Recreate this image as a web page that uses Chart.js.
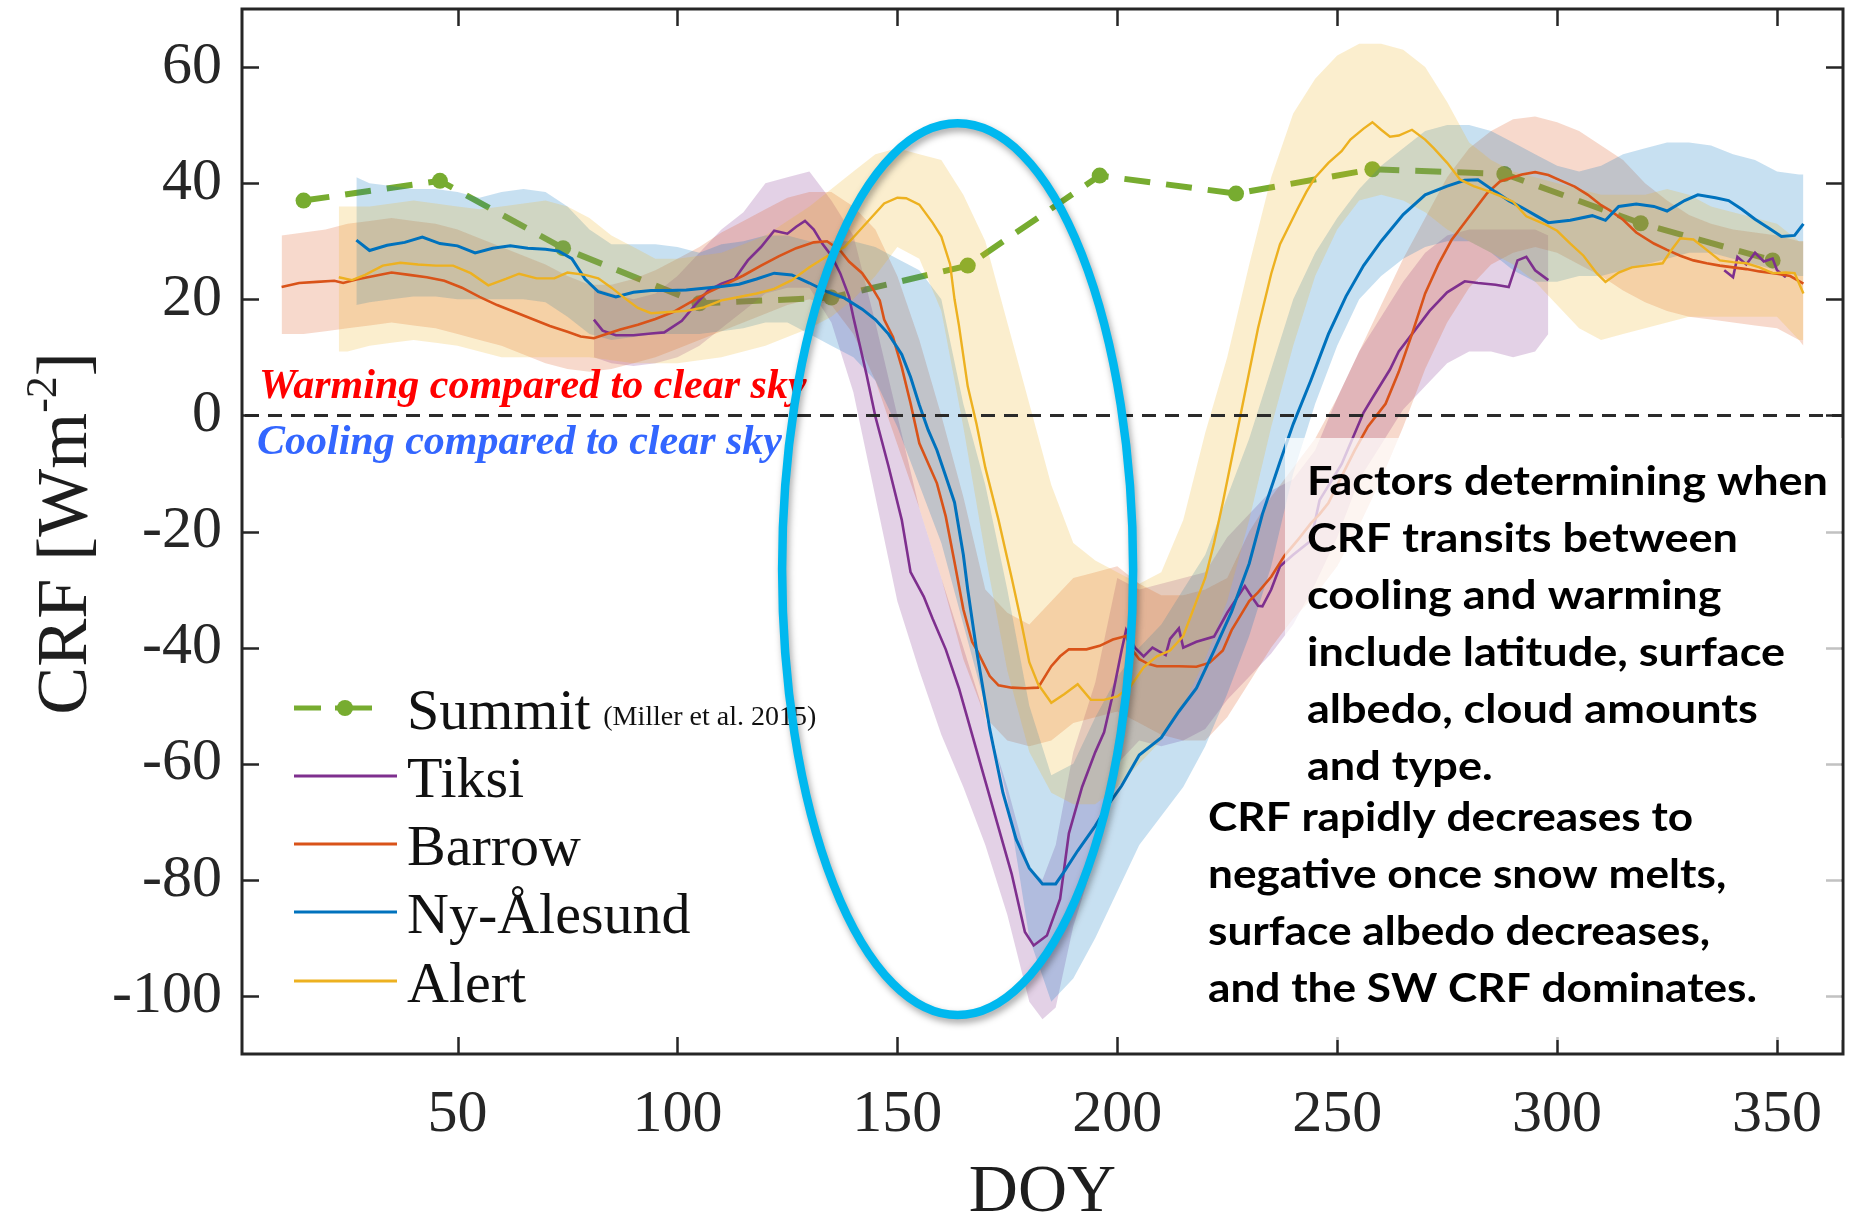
<!DOCTYPE html>
<html>
<head>
<meta charset="utf-8">
<title>Cloud radiative forcing by day of year</title>
<script src="https://cdn.jsdelivr.net/npm/chart.js@4.4.1/dist/chart.umd.min.js"></script>
<style>
  html, body { margin: 0; padding: 0; background: #ffffff; }
  #box { position: relative; width: 1851px; height: 1217px; }
  canvas { display: block; }
</style>
</head>
<body>
<div id="box"><canvas id="crf" width="1851" height="1217"></canvas></div>
<script>
// ---- axis ticks ----
const tickDoy = [50, 100, 150, 200, 250, 300, 350];
const tickCrf = [-100, -80, -60, -40, -20, 0, 20, 40, 60];

// ---- Summit monthly means (Miller et al. 2015) ----
const summitDoy = [15, 46, 74, 105, 135, 166, 196, 227, 258, 288, 319, 349];
const summitCrf = [37.0, 40.4, 28.8, 19.3, 20.3, 25.8, 41.3, 38.2, 42.4, 41.6, 33.1, 26.7];

// ---- Tiksi ----
const tiksiDoy = [81, 83, 86, 90, 94, 97, 101, 104, 107, 110, 113, 116, 119, 122, 125, 127, 129, 131, 133, 135,
  137, 139, 140, 143, 145, 148, 151, 153, 156, 158, 161, 164, 167, 170, 173, 176, 179, 181, 184, 187,
  189, 192, 195, 197, 199, 201, 202, 204, 206, 208, 211, 212, 214, 215, 218, 222, 225, 229, 230, 232,
  233, 235, 237, 240, 244, 246, 251, 256, 258, 262, 264, 267, 271, 275, 279, 282, 286, 289, 291, 293,
  295, 298, 318, 338, 340, 341, 343, 345, 347, 349, 350, 352];
const tiksiCrf = [16.5, 14.6, 13.8, 13.8, 14.1, 14.3, 16.3, 19, 21.5, 22.7, 23.5, 26.7, 29, 31.8, 31.3, 32.5, 33.5, 32, 29.5, 27.5,
  24.5, 20.5, 16.9, 7, -0.2, -8.8, -18, -27, -31.2, -35, -40.3, -47, -55, -63, -71, -79, -89, -91.3, -89.6, -83.3,
  -72, -64, -58, -54.6, -48, -40.4, -37, -40, -41.5, -40, -41.3, -38.5, -36.7, -40, -39, -38.1, -34, -29.4, -30.6, -32.8,
  -32.9, -30, -26, -24, -21.6, -14.6, -8.4, 0.5, 3, 7.9, 11, 14, 18, 21.2, 23.1, 22.8, 22.5, 22.1, 26.7, 27.3,
  25, 23.3, null, 25, 23.8, 27.3, 26, 28, 26.5, 27, 25, 23.8];
const tiksiBandDoy = [81, 85, 90, 95, 100, 105, 110, 115, 120, 125, 130, 135, 140, 145, 150, 155, 160, 165, 170, 175,
  180, 183, 186, 190, 195, 200, 205, 210, 215, 220, 225, 230, 235, 240, 245, 250, 255, 260, 265, 270,
  275, 280, 285, 290, 295, 298];
const tiksiLow = [10, 9, 8.5, 9, 10, 12, 15, 18, 21, 22, 22, 16, 4, -14, -32, -44, -55, -64, -74, -86,
  -101, -104, -102, -88, -76, -60, -56, -57, -56, -54, -49, -45, -41, -36, -29, -21, -11, -5, 1, 5,
  9, 11, 11, 10, 11, 14];
const tiksiHigh = [22, 21, 20, 21, 24, 28, 32, 35, 40, 41, 42, 37, 31, 16, 0, -16, -28, -40, -52, -64,
  -78, -80, -74, -58, -46, -28, -30, -29, -28, -27, -21, -17, -13, -11, -6, 3, 11, 17, 23, 28,
  31, 32, 32, 32, 32, 31];

// ---- Barrow ----
const barrowDoy = [10, 14, 18, 22, 24, 27, 31, 35, 39, 43, 47, 51, 55, 59, 63, 67, 71, 75, 78, 81,
  83, 87, 91, 95, 99, 103, 107, 111, 115, 119, 123, 127, 131, 134, 137, 139, 142, 144, 146, 147,
  149, 151, 153, 155, 159, 161, 163, 165, 167, 168, 171, 173, 176, 179, 182, 185, 187, 189, 193, 196,
  199, 202, 203, 205, 207, 209, 214, 218, 221, 224, 226, 228, 230, 232, 235, 238, 241, 244, 246, 248,
  251, 254, 257, 261, 264, 267, 270, 273, 276, 280, 284, 287, 290, 292, 295, 298, 301, 304, 307, 310,
  312, 315, 318, 322, 325, 328, 331, 334, 337, 340, 343, 346, 350, 353, 356];
const barrowCrf = [22.1, 22.8, 23.0, 23.2, 22.8, 23.4, 24.0, 24.6, 24.2, 23.8, 23.2, 22.0, 20.4, 19.0, 17.8, 16.6, 15.4, 14.4, 13.6, 13.3,
  13.8, 14.8, 15.6, 16.6, 17.8, 19.5, 21.2, 22.6, 24.1, 25.8, 27.4, 28.8, 29.8, 30, 28.4, 26.5, 24.5, 22.3, 19.8, 16.5,
  13.5, 8.3, 2.1, -4.8, -11.7, -17.4, -25.3, -33.4, -39, -40.3, -44.9, -46.5, -46.9, -47, -46.9, -43.2, -41.5, -40.3, -40.3, -39.7,
  -38.6, -38, -40, -42, -42.8, -43.2, -43.2, -43.3, -42.6, -40.5, -37, -34.5, -32, -30.5, -27.8, -24.2, -21.5, -18.6, -17, -15.1,
  -10.5, -6, -1.9, 2, 7.5, 14, 21, 26, 30.2, 34.2, 38.2, 40.3, 41, 41.5, 41.9, 41.4, 40.4, 39.4, 38, 36.2,
  35.3, 33.7, 31.5, 29.6, 28.5, 27.5, 26.7, 26.2, 25.8, 25.5, 25.2, 24.8, 24.4, 24, 22.7];
const barrowBandDoy = [10, 15, 20, 25, 30, 35, 40, 45, 50, 55, 60, 65, 70, 75, 80, 85, 90, 95, 100, 105,
  110, 115, 120, 125, 130, 135, 140, 145, 150, 155, 160, 165, 170, 175, 180, 185, 190, 195, 200, 205,
  210, 215, 220, 225, 230, 235, 240, 245, 250, 255, 260, 265, 270, 275, 280, 285, 290, 295, 300, 305,
  310, 315, 320, 325, 330, 335, 340, 345, 350, 355, 356];
const barrowLow = [14, 14, 14.5, 15, 15.5, 16, 15.5, 15, 14, 13, 12, 10.5, 9, 8, 7.5, 8, 9, 10, 11.5, 13,
  14.5, 16, 17.5, 19, 20, 19, 14, 6, -5, -16, -28, -42, -52, -56, -57, -56, -53, -52, -51, -53,
  -55, -56, -56, -52, -46, -40, -35, -31, -26, -19, -11, -2, 8, 16, 22, 26, 28, 29, 28, 26,
  24, 21.5, 19.5, 18, 17, 16.5, 16, 15.5, 15, 13, 12];
const barrowHigh = [31, 31.5, 32, 33, 33.5, 34, 33.5, 33, 32, 30.5, 29, 27.5, 26, 24, 22.5, 22.5, 23.5, 25, 27, 29,
  31.5, 33.5, 35.5, 37.5, 38.5, 38.5, 36, 32, 24, 13, 0, -14, -30, -34, -36, -32, -28, -27, -26, -29,
  -31, -31, -30, -28, -20, -14, -9, -4, 3, 11, 19, 27, 34, 41, 46, 49, 51, 51.5, 50.5, 49,
  46.5, 44, 40, 37, 34.5, 33, 32, 31.5, 31, 30, 30];

// ---- Ny-Ålesund ----
const nyDoy = [27, 30, 34, 38, 42, 46, 50, 54, 58, 62, 66, 70, 73, 76, 79, 82, 86, 90, 94, 98,
  102, 106, 110, 114, 118, 122, 126, 130, 134, 138, 142, 145, 148, 151, 153, 155, 157, 159, 161, 163,
  165, 166, 168, 171, 174, 177, 180, 183, 186, 188, 191, 195, 198, 201, 205, 210, 214, 218, 222, 226,
  230, 233, 237, 240, 244, 248, 252, 256, 260, 265, 270, 275, 279, 282, 286, 289, 292, 295, 298, 303,
  308, 311, 314, 318, 322, 325, 329, 332, 336, 339, 342, 345, 348, 351, 354, 356];
const nyCrf = [30.2, 28.4, 29.3, 29.8, 30.7, 29.6, 29.2, 28.0, 28.8, 29.2, 28.8, 28.6, 28.3, 27, 23.5, 21.3, 20.4, 21.2, 21.5, 21.5,
  21.6, 21.9, 22.2, 22.6, 23.5, 24.5, 24.2, 22.8, 21.3, 20.2, 18.3, 16.5, 14, 10.5, 6.6, 1.8, -2.5, -6, -10.5, -15,
  -24, -30, -40.4, -54, -65, -73, -78, -80.7, -80.7, -78.5, -75, -70.7, -67, -63.8, -58.5, -55.5, -51, -47, -40.5, -33.8,
  -25.5, -17, -8, -1.5, 6, 14, 20.5, 25.8, 30, 34.6, 38, 39.5, 40.5, 40.6, 38.5, 37, 35.8, 34.5, 33.2, 33.6,
  34.4, 33.6, 36, 36.4, 36, 35.2, 37, 38, 37.5, 37, 35.5, 33.8, 32.3, 30.8, 31, 33];
const nyBandDoy = [27, 30, 35, 40, 45, 50, 55, 60, 65, 70, 75, 80, 85, 90, 95, 100, 105, 110, 115, 120,
  125, 130, 135, 140, 145, 150, 155, 160, 165, 170, 175, 180, 185, 190, 195, 200, 205, 210, 215, 220,
  225, 230, 235, 240, 245, 250, 255, 260, 265, 270, 275, 280, 285, 290, 295, 300, 305, 310, 315, 320,
  325, 330, 335, 340, 345, 350, 355, 356];
const nyLow = [19, 19.5, 20, 20.5, 20.5, 20, 20, 20, 20, 19.5, 17, 14, 13, 13.5, 14, 14, 14, 14.5, 15, 16,
  16, 14, 12, 10, 6, -2, -12, -22, -36, -50, -66, -90, -101, -97, -90, -82, -74, -69, -64, -57,
  -48, -38, -26, -10, 2, 12, 20, 24, 27, 29, 30, 30, 28, 25, 23, 23, 24, 24, 25, 26,
  27, 28, 28, 27, 26, 25, 24, 24];
const nyHigh = [41, 40, 39.5, 39, 39, 38.5, 37.5, 38.5, 39, 38.5, 36, 32, 29.5, 29.5, 29.5, 29, 28, 29.5, 30, 31,
  31, 30, 30, 30, 29, 27, 25, 20, 2, -12, -30, -50, -62, -60, -52, -45, -40, -36, -30, -24,
  -14, -4, 8, 20, 28, 34, 39, 43, 46, 49, 50, 50, 49, 47, 45, 43, 42, 43, 45, 46,
  47, 47, 46.5, 45, 44, 42, 41.5, 41.5];

// ---- Alert ----
const alertDoy = [23, 26, 29, 33, 37, 41, 45, 49, 53, 57, 61, 64, 68, 72, 75, 79, 82, 85, 88, 91,
  94, 98, 102, 106, 110, 114, 118, 122, 126, 130, 134, 138, 141, 144, 147, 150, 152, 155, 158, 160,
  162, 163, 164, 166, 168, 170, 173, 176, 178, 180, 182, 185, 188, 191, 194, 197, 200, 203, 206, 209,
  212, 215, 218, 220, 222, 224, 226, 228, 230, 232, 235, 237, 241, 243, 245, 248, 251, 253, 256, 258,
  260, 262, 264, 267, 270, 272, 275, 278, 281, 284, 287, 290, 293, 297, 300, 303, 306, 309, 311, 314,
  317, 320, 324, 326, 328, 331, 334, 337, 340, 343, 346, 349, 352, 354, 356];
const alertCrf = [23.8, 23.3, 24.2, 25.8, 26.3, 26, 25.8, 25.8, 24.5, 22.4, 23.5, 24.4, 23.6, 23.6, 24.6, 24.2, 23.6, 22, 20.2, 18.5,
  17.6, 17.8, 18, 18.6, 19.8, 20.4, 21, 21.8, 23.3, 25.5, 27.4, 29, 31.5, 34, 36.5, 37.5, 37.4, 36.3, 33.2, 30.8,
  26, 20, 15.5, 5, -1.5, -9, -18, -28, -35, -42.5, -46.3, -49.5, -48, -46.3, -49, -49, -48.4, -46.7, -43.4, -41.5,
  -40.5, -38, -32, -28, -22, -15, -7.5, 0, 7.5, 15, 24.4, 29.5, 35.6, 38.5, 41, 43.5, 45.5, 47.5, 49.4, 50.5,
  49.2, 48, 48.2, 49.2, 47.5, 46, 43.5, 40.6, 39.5, 38.7, 37.8, 36.8, 34.3, 33, 31.8, 29.6, 27.5, 24.5, 23, 24.6,
  25.5, 25.8, 26.2, 28.5, 30.5, 30.3, 28.5, 26.7, 26.4, 26.2, 25.5, 24.5, 24.6, 24.5, 21];
const alertBandDoy = [23, 25, 30, 35, 40, 45, 50, 55, 60, 65, 70, 75, 80, 85, 90, 95, 100, 105, 110, 115,
  120, 125, 130, 135, 140, 145, 150, 155, 160, 165, 170, 175, 180, 185, 190, 195, 200, 205, 210, 215,
  220, 225, 230, 235, 240, 245, 250, 255, 260, 265, 270, 275, 280, 285, 290, 295, 300, 305, 310, 315,
  320, 325, 330, 335, 340, 345, 350, 355, 356];
const alertLow = [11, 11, 12, 12.5, 13, 12.5, 12, 11, 10, 10, 10, 10, 10, 9.5, 9, 9, 9, 9.5, 10, 11,
  12, 13.5, 15, 17, 20, 24, 29, 27, 18, -2, -24, -44, -58, -65, -67, -67, -64, -60, -56, -50,
  -42, -32, -18, -2, 12, 24, 32, 37, 38, 37, 35, 32, 30, 28, 26, 23, 19, 15, 13, 14,
  15, 16, 17, 17, 17, 17, 17, 13, 13];
const alertHigh = [36, 36, 36, 36.5, 37, 36.5, 36, 35.5, 36, 36.5, 37, 36, 34, 31, 29, 27, 27, 27.5, 28, 29.5,
  31, 33.5, 36, 39, 42, 45, 46, 45, 44, 38, 30, 16, 2, -12, -22, -25, -27, -29, -27, -18,
  -3, 10, 26, 41, 52, 58, 62, 64, 64, 63, 60, 54, 47, 44, 42, 41, 40, 39, 38, 38,
  38, 39, 38, 36, 35, 34, 33, 30, 30];

// ---- helpers ----
function pts(xs, ys) { return xs.map((x, i) => ({ x: x, y: ys[i] })); }

const STATION = {
  tiksi:  '#7E2F8E',
  barrow: '#D95319',
  ny:     '#0072BD',
  alert:  '#EDB120',
  summit: '#77AC30'
};
function rgba(hex, a) {
  const n = parseInt(hex.slice(1), 16);
  return 'rgba(' + (n >> 16 & 255) + ',' + (n >> 8 & 255) + ',' + (n & 255) + ',' + a + ')';
}

function bandPair(doy, low, high, color, order) {
  return [
    { data: pts(doy, low), borderWidth: 0, borderColor: 'rgba(0,0,0,0)', pointRadius: 0, fill: false, order: order },
    { data: pts(doy, high), borderWidth: 0, borderColor: 'rgba(0,0,0,0)', pointRadius: 0, fill: '-1',
      backgroundColor: rgba(color, 0.22), order: order }
  ];
}
function meanLine(label, doy, crf, color, width, order) {
  return { label: label, data: pts(doy, crf), borderColor: color, borderWidth: width, pointRadius: 0,
    fill: false, tension: 0, spanGaps: false, order: order };
}

const datasets = [
  { label: 'Summit', data: pts(summitDoy, summitCrf), borderColor: STATION.summit, borderWidth: 6,
    borderDash: [26, 16], pointRadius: 8, pointHoverRadius: 8, pointBackgroundColor: STATION.summit,
    pointBorderWidth: 0, fill: false, tension: 0, order: 100 },
  ...bandPair(tiksiBandDoy, tiksiLow, tiksiHigh, STATION.tiksi, 60),
  ...bandPair(barrowBandDoy, barrowLow, barrowHigh, STATION.barrow, 59),
  ...bandPair(nyBandDoy, nyLow, nyHigh, STATION.ny, 58),
  ...bandPair(alertBandDoy, alertLow, alertHigh, STATION.alert, 57),
  meanLine('Tiksi', tiksiDoy, tiksiCrf, STATION.tiksi, 2.6, 4),
  meanLine('Barrow', barrowDoy, barrowCrf, STATION.barrow, 2.6, 3),
  meanLine('Ny-Ålesund', nyDoy, nyCrf, STATION.ny, 3, 2),
  meanLine('Alert', alertDoy, alertCrf, STATION.alert, 2.4, 1)
];

const SERIF = '"Liberation Serif", "Times New Roman", serif';
const INK = '#262626';

// Annotation ring around the melt-season drop (data units)
const ring = { doy: 163.7, crf: -26.5, halfDoy: 39.9, halfCrf: 76.8 };

function drawBlock(ctx, lines, x, y0, lh, target, refIdx) {
  ctx.font = '700 40px Lato, "Open Sans", sans-serif';
  const sx = target / ctx.measureText(lines[refIdx]).width;
  lines.forEach((t, i) => {
    ctx.save();
    ctx.translate(x, y0 + i * lh);
    ctx.scale(sx, 1);
    ctx.fillText(t, 0, 0);
    ctx.restore();
  });
}

const decor = {
  id: 'decor',
  afterDatasetsDraw(chart) {
    const { ctx, chartArea: a, scales: { y } } = chart;
    const y0 = Math.round(y.getPixelForValue(0)) + 0.5;
    ctx.save();
    ctx.strokeStyle = '#2a2a2a';
    ctx.lineWidth = 3;
    ctx.setLineDash([14, 9]);
    ctx.beginPath();
    ctx.moveTo(a.left + 3, y0);
    ctx.lineTo(a.right, y0);
    ctx.stroke();
    ctx.restore();
  },
  afterDraw(chart) {
    const { ctx, chartArea: a, scales: { x, y } } = chart;
    ctx.save();

    // box and inward ticks on all four sides
    ctx.strokeStyle = INK;
    ctx.lineWidth = 3;
    ctx.strokeRect(a.left, a.top, a.right - a.left, a.bottom - a.top);
    ctx.lineWidth = 2.5;
    const tl = 17;
    ctx.beginPath();
    tickDoy.forEach(v => {
      const px = Math.round(x.getPixelForValue(v)) + 0.5;
      ctx.moveTo(px, a.bottom); ctx.lineTo(px, a.bottom - tl);
      ctx.moveTo(px, a.top); ctx.lineTo(px, a.top + tl);
    });
    tickCrf.forEach(v => {
      const py = Math.round(y.getPixelForValue(v)) + 0.5;
      ctx.moveTo(a.left, py); ctx.lineTo(a.left + tl, py);
      ctx.moveTo(a.right, py); ctx.lineTo(a.right - tl, py);
    });
    ctx.stroke();

    // axis titles
    ctx.fillStyle = '#1e1e1e';
    ctx.textBaseline = 'alphabetic';
    ctx.textAlign = 'left';
    ctx.save();
    ctx.translate(86, (a.top + a.bottom) / 2 + 2);
    ctx.rotate(-Math.PI / 2);
    ctx.font = '72px ' + SERIF;
    const t1 = 'CRF [Wm', t3 = ']';
    const w1 = ctx.measureText(t1).width, w3 = ctx.measureText(t3).width;
    ctx.font = '44px ' + SERIF;
    const t2 = '-2';
    const w2 = ctx.measureText(t2).width;
    let sx = -(w1 + w2 + w3) / 2;
    ctx.font = '72px ' + SERIF;
    ctx.fillText(t1, sx, 0);
    ctx.font = '44px ' + SERIF;
    ctx.fillText(t2, sx + w1, -30);
    ctx.font = '72px ' + SERIF;
    ctx.fillText(t3, sx + w1 + w2, 0);
    ctx.restore();

    ctx.font = '68px ' + SERIF;
    ctx.textAlign = 'center';
    ctx.fillText('DOY', (a.left + a.right) / 2, 1211);
    ctx.textAlign = 'left';

    // warming / cooling labels
    ctx.font = 'italic 700 42px ' + SERIF;
    ctx.fillStyle = '#FF0000';
    ctx.fillText('Warming compared to clear sky', 259, 398);
    ctx.fillStyle = '#3366FF';
    ctx.fillText('Cooling compared to clear sky', 257, 454);

    // translucent panels behind the explanatory text
    ctx.fillStyle = 'rgba(255,255,255,0.72)';
    ctx.fillRect(1285, 438, a.right - 1.5 - 1285, 800 - 438);
    ctx.fillRect(1200, 800, a.right - 1.5 - 1200, 1040 - 800);

    ctx.fillStyle = '#000000';
    drawBlock(ctx, ['Factors determining when', 'CRF transits between', 'cooling and warming',
      'include latitude, surface', 'albedo, cloud amounts', 'and type.'], 1307, 495, 57, 521, 0);
    drawBlock(ctx, ['CRF rapidly decreases to', 'negative once snow melts,', 'surface albedo decreases,',
      'and the SW CRF dominates.'], 1208, 831, 57, 549, 3);

    // legend
    const rows = [708, 776, 844, 912, 981];
    const lx0 = 294, lx1 = 397, tx = 407;
    ctx.lineCap = 'butt';
    ctx.strokeStyle = STATION.summit;
    ctx.lineWidth = 5;
    ctx.beginPath();
    ctx.moveTo(lx0, rows[0]); ctx.lineTo(321, rows[0]);
    ctx.moveTo(335, rows[0]); ctx.lineTo(372, rows[0]);
    ctx.stroke();
    ctx.fillStyle = STATION.summit;
    ctx.beginPath(); ctx.arc(345, rows[0], 8, 0, Math.PI * 2); ctx.fill();
    const lineRows = [['Tiksi', STATION.tiksi], ['Barrow', STATION.barrow], ['Ny-Ålesund', STATION.ny], ['Alert', STATION.alert]];
    lineRows.forEach((r, i) => {
      ctx.strokeStyle = r[1];
      ctx.lineWidth = 3;
      ctx.beginPath(); ctx.moveTo(lx0, rows[i + 1]); ctx.lineTo(lx1, rows[i + 1]); ctx.stroke();
    });
    ctx.fillStyle = '#111111';
    ctx.font = '58px ' + SERIF;
    ctx.fillText('Summit', tx, rows[0] + 21);
    const ws = ctx.measureText('Summit ').width;
    lineRows.forEach((r, i) => ctx.fillText(r[0], tx, rows[i + 1] + 21));
    ctx.font = '28px ' + SERIF;
    ctx.fillText('(Miller et al. 2015)', tx + ws - 2, rows[0] + 17);

    // ring marking the rapid decrease
    const cx = x.getPixelForValue(ring.doy), cy = y.getPixelForValue(ring.crf);
    const rx = x.getPixelForValue(ring.doy + ring.halfDoy) - cx;
    const ry = cy - y.getPixelForValue(ring.crf + ring.halfCrf);
    ctx.shadowColor = 'rgba(0,0,0,0.35)';
    ctx.shadowBlur = 7;
    ctx.shadowOffsetX = 2;
    ctx.shadowOffsetY = 4;
    ctx.strokeStyle = '#00B8EF';
    ctx.lineWidth = 8.5;
    ctx.beginPath();
    ctx.ellipse(cx, cy, rx, ry, 0, 0, Math.PI * 2);
    ctx.stroke();
    ctx.restore();
  }
};

new Chart(document.getElementById('crf'), {
  type: 'line',
  data: { datasets: datasets },
  options: {
    responsive: false,
    animation: false,
    devicePixelRatio: 1,
    parsing: true,
    layout: { padding: { left: 0, right: 3, top: 9, bottom: 0 } },
    plugins: { legend: { display: false }, tooltip: { enabled: false } },
    scales: {
      x: {
        type: 'linear', min: 1, max: 365,
        afterBuildTicks: s => { s.ticks = tickDoy.map(v => ({ value: v })); },
        afterFit: s => { s.height = 163; s.paddingLeft = 0; s.paddingRight = 0; },
        grid: { display: false, drawTicks: false },
        border: { display: false },
        ticks: { autoSkip: false, maxRotation: 0, padding: 25, color: INK,
          font: { family: SERIF, size: 60 }, callback: v => String(v) }
      },
      y: {
        type: 'linear', min: -110, max: 70,
        afterBuildTicks: s => { s.ticks = tickCrf.map(v => ({ value: v })); },
        afterFit: s => { s.width = 242; s.paddingTop = 0; s.paddingBottom = 0; },
        grid: { display: false, drawTicks: false },
        border: { display: false },
        ticks: { autoSkip: false, padding: 20, color: INK,
          font: { family: SERIF, size: 60 }, callback: v => String(v) }
      }
    }
  },
  plugins: [decor]
});
</script>
</body>
</html>
